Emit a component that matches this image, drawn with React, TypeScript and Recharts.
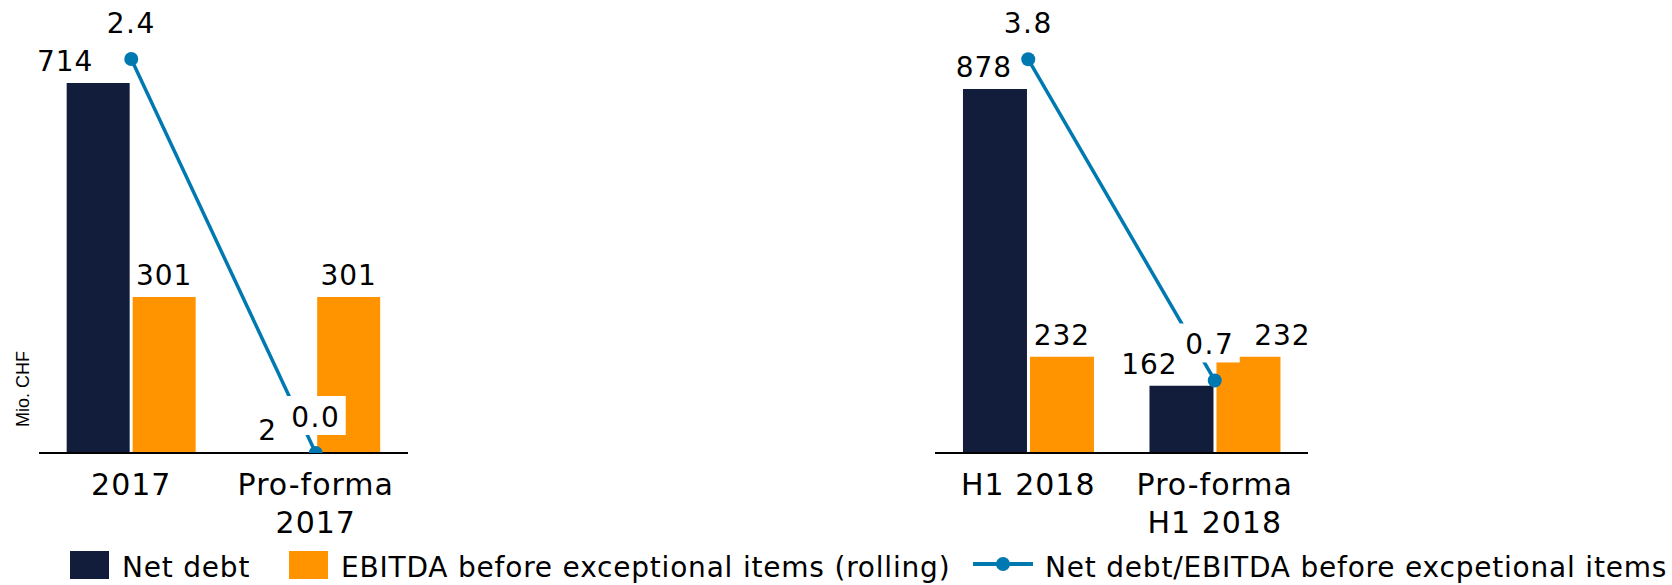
import React from "react";
import { ComposedChart, Bar, Line, XAxis, YAxis, LabelList } from "recharts";

// left panel: 2017
const leftCategories = ["2017", "Pro-forma\n2017"];
const leftNetDebt = [714, 2];
const leftEbitda = [301, 301];
const leftRatio = [2.4, 0.0];

// right panel: H1 2018
const rightCategories = ["H1 2018", "Pro-forma\nH1 2018"];
const rightNetDebt = [878, 162];
const rightEbitda = [232, 232];
const rightRatio = [3.8, 0.7];

const NAVY = "#121d3b";
const ORANGE = "#ff9300";
const BLUE = "#0079b1";
const FONT = "'DejaVu Sans', Verdana, sans-serif";

const box = (p: any) => {
  const vb = p.viewBox || {};
  return {
    x: p.x ?? vb.x,
    y: p.y ?? vb.y,
    width: p.width ?? vb.width ?? 0,
  };
};

const CategoryTick = (props: any) => {
  const { x, y, payload } = props;
  const lines = String(payload.value).split("\n");
  return (
    <text
      x={x}
      y={y}
      textAnchor="middle"
      fontFamily={FONT}
      fontSize={30}
      letterSpacing={1}
      fill="#000"
    >
      {lines.map((l, i) => (
        <tspan key={i} x={x} dy={i === 0 ? 42 : 38}>
          {l}
        </tspan>
      ))}
    </text>
  );
};

const makeBarLabel = (shift: number[]) => (props: any) => {
  const { x, y, width } = box(props);
  const i = props.index ?? 0;
  return (
    <text
      x={x + width / 2 + (shift[i] || 0)}
      y={y - 12}
      textAnchor="middle"
      fontFamily={FONT}
      fontSize={28}
      letterSpacing={1}
      fill="#000"
    >
      {props.value}
    </text>
  );
};

const makeLineLabel = (shift: number[]) => (props: any) => {
  const { x, y } = box(props);
  const i = props.index ?? 0;
  const cx = x + (shift[i] || 0);
  const base = y - 26;
  return (
    <g>
      <rect x={cx - 30} y={base - 31} width={60} height={39} fill="#fff" />
      <text
        x={cx}
        y={base}
        textAnchor="middle"
        fontFamily={FONT}
        fontSize={28}
        letterSpacing={1.5}
        fill="#000"
      >
        {Number(props.value).toFixed(1)}
      </text>
    </g>
  );
};

type PanelProps = {
  categories: string[];
  netDebt: number[];
  ebitda: number[];
  ratio: number[];
  barMax: number;
  ratioMax: number;
  debtShift: number[];
  ebitdaShift: number[];
  ratioShift: number[];
  left: number;
  marginLeft: number;
};

const Panel = (p: PanelProps) => {
  const data = p.categories.map((c, i) => ({
    name: c,
    netDebt: p.netDebt[i],
    ebitda: p.ebitda[i],
    ratio: p.ratio[i],
  }));
  return (
    <div style={{ position: "absolute", left: p.left, top: 0 }}>
      <ComposedChart
        width={420}
        height={550}
        data={data}
        margin={{ top: 40, right: 12, bottom: 0, left: p.marginLeft }}
        barCategoryGap="15%"
        barGap={3}
      >
        <XAxis
          dataKey="name"
          interval={0}
          height={97}
          tickLine={false}
          tickSize={0}
          tickMargin={0}
          axisLine={{ stroke: "#000", strokeWidth: 2 }}
          tick={<CategoryTick />}
        />
        <YAxis yAxisId="bars" hide domain={[0, p.barMax]} allowDataOverflow />
        <YAxis yAxisId="ratio" orientation="right" hide domain={[0, p.ratioMax]} allowDataOverflow />
        <Bar yAxisId="bars" dataKey="netDebt" fill={NAVY} isAnimationActive={false}>
          <LabelList dataKey="netDebt" content={makeBarLabel(p.debtShift)} />
        </Bar>
        <Bar yAxisId="bars" dataKey="ebitda" fill={ORANGE} isAnimationActive={false}>
          <LabelList dataKey="ebitda" content={makeBarLabel(p.ebitdaShift)} />
        </Bar>
        <Line
          yAxisId="ratio"
          type="linear"
          dataKey="ratio"
          stroke={BLUE}
          strokeWidth={3.5}
          dot={{ r: 7, fill: BLUE, stroke: BLUE, strokeWidth: 0 }}
          isAnimationActive={false}
        >
          <LabelList dataKey="ratio" content={makeLineLabel(p.ratioShift)} />
        </Line>
      </ComposedChart>
    </div>
  );
};

export default function App() {
  return (
    <div
      style={{
        position: "absolute",
        left: 0,
        top: 0,
        width: 1672,
        height: 585,
        background: "#fff",
        overflow: "hidden",
      }}
    >
      <Panel
        categories={leftCategories}
        netDebt={leftNetDebt}
        ebitda={leftEbitda}
        ratio={leftRatio}
        barMax={797}
        ratioMax={2.516}
        debtShift={[-33, -15]}
        ebitdaShift={[0, 0]}
        ratioShift={[0, 0]}
        left={0}
        marginLeft={39}
      />
      <Panel
        categories={rightCategories}
        netDebt={rightNetDebt}
        ebitda={rightEbitda}
        ratio={rightRatio}
        barMax={996}
        ratioMax={3.986}
        debtShift={[-11, -32]}
        ebitdaShift={[0, 34]}
        ratioShift={[0, -5]}
        left={900}
        marginLeft={35}
      />
      <svg
        width={60}
        height={585}
        style={{ position: "absolute", left: 0, top: 0 }}
      >
        <text
          transform="translate(28.5,389) rotate(-90)"
          textAnchor="middle"
          fontFamily="'Liberation Sans', Arial, sans-serif"
          fontSize={18}
          fill="#000"
        >
          Mio. CHF
        </text>
      </svg>
      <svg
        width={1672}
        height={55}
        style={{ position: "absolute", left: 0, top: 530 }}
        fontFamily={FONT}
        fontSize={28}
        letterSpacing={0.8}
      >
        <rect x={70} y={21} width={39} height={28} fill={NAVY} />
        <text x={122} y={47} fill="#000">Net debt</text>
        <rect x={289} y={21} width={39} height={28} fill={ORANGE} />
        <text x={341} y={47} fill="#000">EBITDA before exceptional items (rolling)</text>
        <line x1={973} x2={1033} y1={34} y2={34} stroke={BLUE} strokeWidth={4} />
        <circle cx={1003} cy={34} r={7} fill={BLUE} />
        <text x={1045} y={47} fill="#000">Net debt/EBITDA before excpetional items</text>
      </svg>
    </div>
  );
}
